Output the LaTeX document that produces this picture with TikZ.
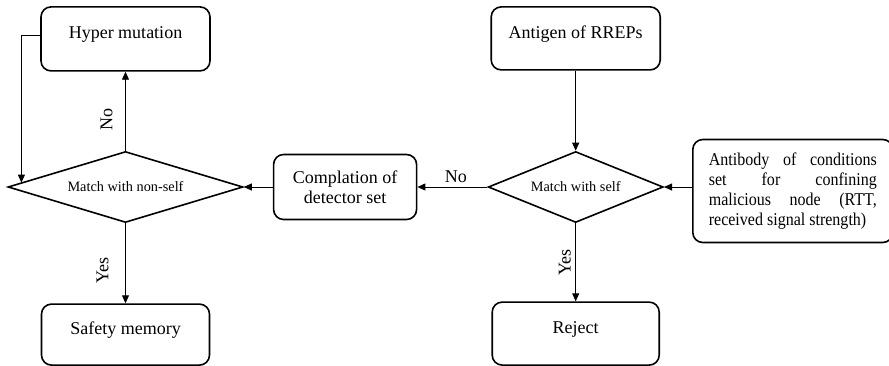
\documentclass[tikz,border=0pt]{standalone}
\usepackage{fontspec}
\setmainfont{Liberation Serif}
\newfontfamily\narrowserif[FakeStretch=0.89]{Liberation Serif}
\usepackage{tikz}
\usetikzlibrary{positioning,arrows.meta,shapes.geometric,calc}

\begin{document}
\begin{tikzpicture}[
    x=1pt, y=-1pt,
    font=\fontsize{18}{20}\selectfont,
    step_box/.style={draw, rounded corners=10pt, line width=1.6pt, align=center, inner sep=4pt},
    top_text/.style={text depth=12pt},
    test_box/.style={draw, diamond, line width=1.6pt, inner sep=0pt, font=\fontsize{14.3}{16}\selectfont},
    arrow/.style={-{Triangle[length=8pt,width=7pt]}, line width=0.9pt},
    lbl/.style={font=\fontsize{18}{20}\selectfont, inner sep=2pt}
]
\useasboundingbox (0,0) rectangle (889,365);

% left column
\node (nonself) [test_box, aspect=3.3, minimum width=235pt, minimum height=71pt] at (125.5,187) {Match with non-self};
\node (hyper)   [step_box, top_text, minimum width=169pt, minimum height=64pt, above=79pt of nonself] {Hyper mutation};
\node (safety)  [step_box, top_text, minimum width=168pt, minimum height=61pt, below=80pt of nonself] {Safety memory};

% middle and right column
\node (detect)   [step_box, minimum width=143pt, minimum height=65pt, right=29pt of nonself] {Complation of\\detector set};
\node (self)     [test_box, aspect=2.46, minimum width=175pt, minimum height=71pt, right=70pt of detect] {Match with self};
\node (antigen)  [step_box, top_text, minimum width=169pt, minimum height=63pt, above=80pt of self] {Antigen of RREPs};
\node (reject)   [step_box, top_text, minimum width=167pt, minimum height=63pt, below=78pt of self] {Reject};
\node (antibody) [step_box, minimum width=200pt, minimum height=103pt, right=28pt of self, yshift=-4pt,
                  align=justify, text width=168pt, font=\narrowserif\fontsize{18}{20}\selectfont]
    {\baselineskip=20pt Antibody of conditions\linebreak set for confining\linebreak malicious node (RTT,\linebreak received signal strength)\par};

\draw [arrow] (nonself.north) -- node[lbl, pos=0.4, rotate=90, anchor=south, outer sep=11pt] {No} (hyper.south);
\draw [arrow] (nonself.south) -- node[lbl, pos=0.59, rotate=90, anchor=south, outer sep=15pt] {Yes} (safety.north);
\draw [arrow] ([yshift=3pt]hyper.west) -| ($(nonself.west)!0.12!(nonself.north)$);
\draw [arrow] (detect.west) -- (nonself.east);
\draw [arrow] (self.west) -- node[lbl, pos=0.45, above, inner sep=4pt] {No} (detect.east);
\draw [arrow] (antigen.south) -- (self.north);
\draw [arrow] (self.east -| antibody.west) -- (self.east);
\draw [arrow] (self.south) -- node[lbl, midway, rotate=90, anchor=south, outer sep=3pt] {Yes} (reject.north);

\end{tikzpicture}
\end{document}
